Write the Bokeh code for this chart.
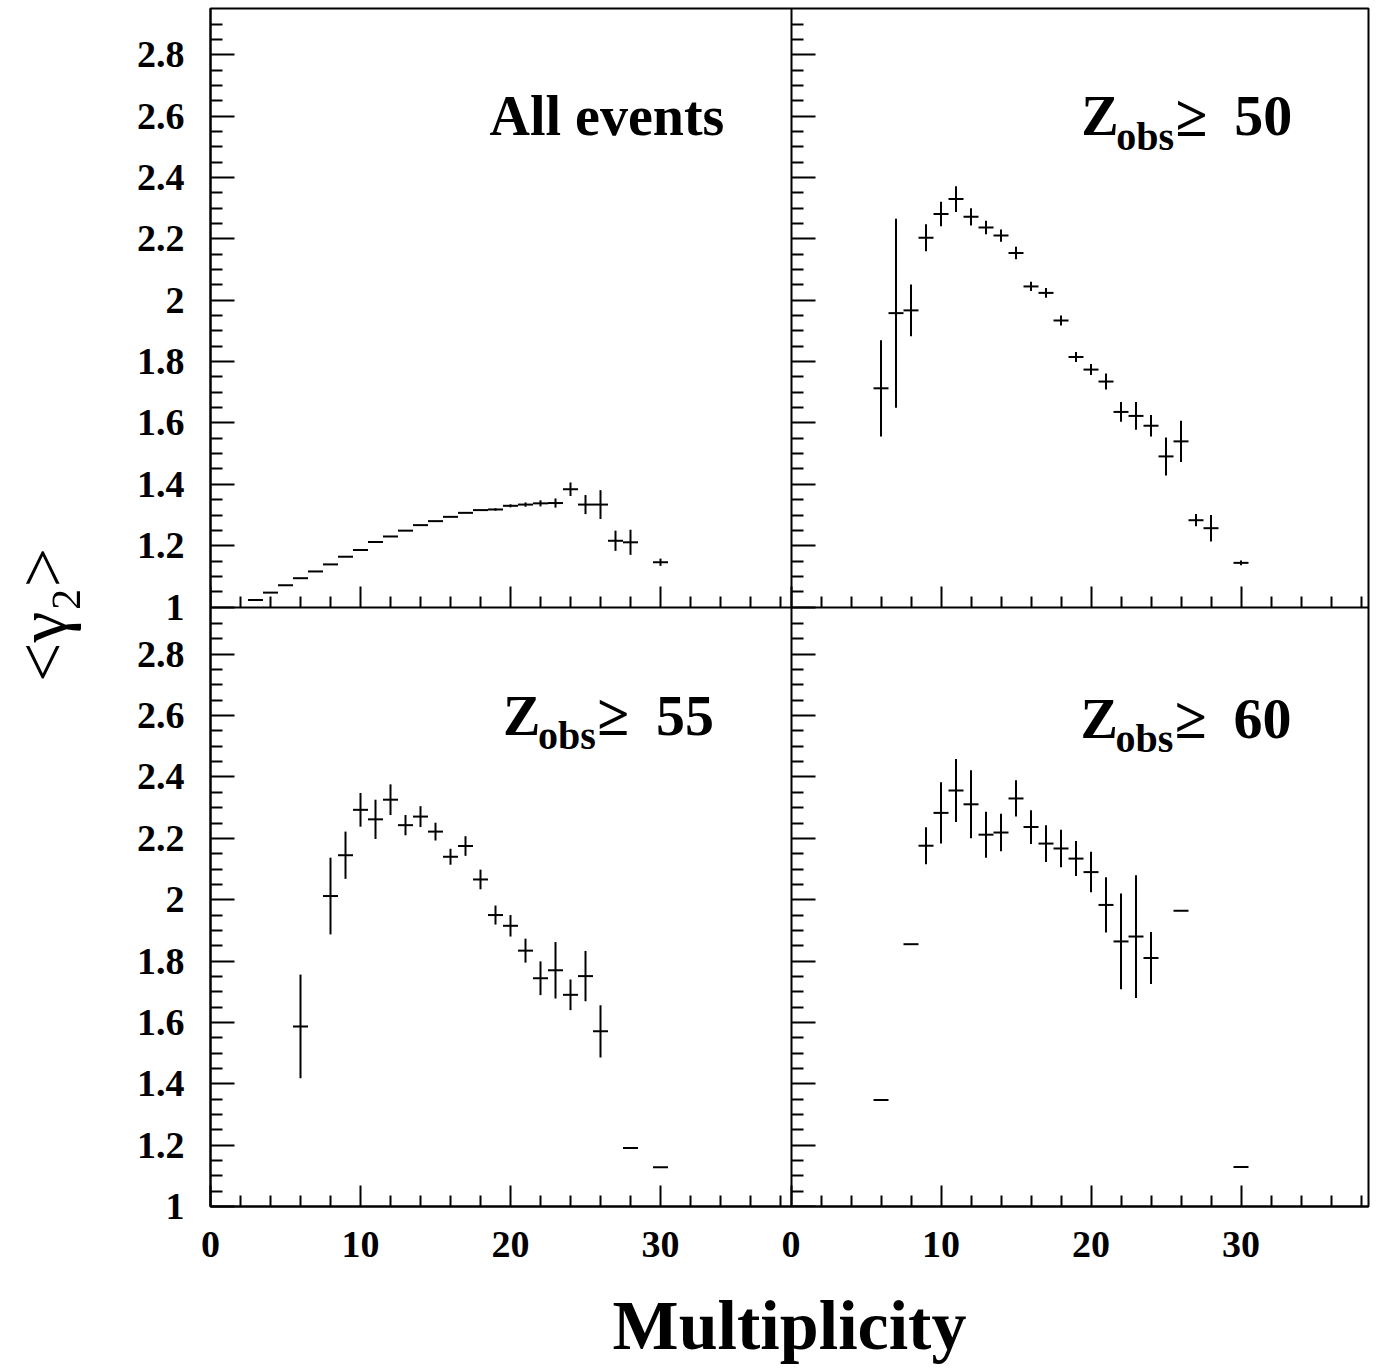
import numpy as np
from math import pi
from bokeh.plotting import figure
from bokeh.layouts import row
from bokeh.models import Range1d, LinearAxis, FixedTicker, Label
from bokeh.core.properties import value
from bokeh.embed import file_html
from bokeh.resources import INLINE

# ---------------- data ----------------
all_x = [3, 4, 5, 6, 7, 8, 9, 10, 11, 12, 13, 14, 15, 16, 17, 18, 19, 20, 21, 22, 23, 24, 25, 26, 27, 28, 30]
all_y = [1.023, 1.047, 1.071, 1.094, 1.116, 1.139, 1.164, 1.186, 1.212, 1.230, 1.249, 1.267, 1.280, 1.294,
         1.307, 1.316, 1.318, 1.330, 1.334, 1.338, 1.339, 1.384, 1.334, 1.334, 1.216, 1.211, 1.146]
all_e = [0, 0, 0, 0, 0, 0, 0, 0, 0, 0, 0, 0, 0, 0, 0, 0, 0.004, 0.005, 0.007, 0.010, 0.015, 0.022, 0.031,
         0.047, 0.033, 0.041, 0.012]

z50_x = [6, 7, 8, 9, 10, 11, 12, 13, 14, 15, 16, 17, 18, 19, 20, 21, 22, 23, 24, 25, 26, 27, 28, 30]
z50_y = [1.713, 1.958, 1.967, 2.204, 2.281, 2.330, 2.272, 2.237, 2.211, 2.154, 2.045, 2.024, 1.934, 1.815,
         1.774, 1.735, 1.636, 1.623, 1.591, 1.491, 1.540, 1.283, 1.257, 1.144]
z50_e = [0.157, 0.308, 0.084, 0.044, 0.040, 0.042, 0.028, 0.022, 0.020, 0.020, 0.015, 0.016, 0.016, 0.016,
         0.018, 0.026, 0.032, 0.045, 0.035, 0.062, 0.067, 0.020, 0.043, 0.008]

z55_x = [6, 8, 9, 10, 11, 12, 13, 14, 15, 16, 17, 18, 19, 20, 21, 22, 23, 24, 25, 26, 28, 30]
z55_y = [1.587, 2.012, 2.145, 2.293, 2.262, 2.326, 2.243, 2.271, 2.222, 2.140, 2.175, 2.066, 1.950, 1.915,
         1.834, 1.744, 1.770, 1.690, 1.751, 1.571, 1.191, 1.128]
z55_e = [0.169, 0.125, 0.077, 0.055, 0.064, 0.050, 0.033, 0.034, 0.029, 0.026, 0.032, 0.032, 0.031, 0.035,
         0.039, 0.055, 0.092, 0.050, 0.082, 0.085, 0, 0]

z60_x = [6, 8, 9, 10, 11, 12, 13, 14, 15, 16, 17, 18, 19, 20, 21, 22, 23, 24, 26, 30]
z60_y = [1.347, 1.855, 2.176, 2.283, 2.356, 2.311, 2.212, 2.219, 2.330, 2.237, 2.183, 2.167, 2.134, 2.090,
         1.983, 1.864, 1.880, 1.810, 1.964, 1.129]
z60_e = [0, 0, 0.060, 0.100, 0.103, 0.111, 0.075, 0.061, 0.059, 0.055, 0.060, 0.061, 0.057, 0.066,
         0.090, 0.156, 0.200, 0.085, 0, 0]

y_ticks = [1.0, 1.2, 1.4, 1.6, 1.8, 2.0, 2.2, 2.4, 2.6, 2.8]
y_tick_labels = ["1", "1.2", "1.4", "1.6", "1.8", "2", "2.2", "2.4", "2.6", "2.8"]
y_minor = [1.05, 1.1, 1.15, 1.25, 1.3, 1.35, 1.45, 1.5, 1.55, 1.65, 1.7, 1.75, 1.85, 1.9, 1.95,
           2.05, 2.1, 2.15, 2.25, 2.3, 2.35, 2.45, 2.5, 2.55, 2.65, 2.7, 2.75, 2.85, 2.9]
x_ticks = [0, 10, 20, 30]
x_tick_labels = ["0", "10", "20", "30"]
x_minor = [2, 4, 6, 8, 12, 14, 16, 18, 22, 24, 26, 28, 32, 34, 36, 38]

panel_titles = ["All events", "50", "55", "60"]
x_title = "Multiplicity"
y_title = "<\u03b3\u2082>"

# ---------------- layout constants ----------------
XL = 38.7      # x extent of left panels
XR = 38.5      # x extent of right panels
YB = 1.954     # y extent (above 1) of bottom panels
YT = 1.951     # y extent (above 1) of top panels
FONT = "Liberation Serif"
H = 1366
STRIP = 90     # width of the strip holding the y title

# combined tick positions: left/bottom panel on the main scale, right/top panel shifted
xt_all = [float(t) for t in x_ticks] + [t + XL for t in x_ticks]
xt_lab = x_tick_labels + x_tick_labels
xm_all = [float(t) for t in x_minor] + [t + XL for t in x_minor]
yt_all = list(y_ticks) + [t + YB for t in y_ticks]
yt_lab = y_tick_labels + y_tick_labels
ym_all = list(y_minor) + [t + YB for t in y_minor]

p = figure(width=(210 - STRIP) + 1158 + 8, height=H,
           x_range=Range1d(0, XL + XR), y_range=Range1d(1, 1 + YB + YT),
           x_axis_type=None, y_axis_type=None,
           output_backend="svg", toolbar_location=None,
           min_border_left=210 - STRIP, min_border_right=8, min_border_top=8,
           min_border_bottom=H - 8 - 1199)
p.extra_x_ranges = {"right": Range1d(-XL, XR)}
p.extra_y_ranges = {"top": Range1d(1 - YB, 1 + YT)}
p.outline_line_color = "black"
p.outline_line_width = 2
p.background_fill_color = "white"
p.border_fill_color = "white"


def make_axis(kind, show_labels, **kw):
    if kind == "y":
        ticker = FixedTicker(ticks=yt_all, minor_ticks=ym_all)
        overrides = {t: l for t, l in zip(yt_all, yt_lab)}
        tin, min_in, standoff = 24, 12, 26
    else:
        ticker = FixedTicker(ticks=xt_all, minor_ticks=xm_all)
        overrides = {t: l for t, l in zip(xt_all, xt_lab)}
        tin, min_in, standoff = 21, 11, 25
    ax = LinearAxis(ticker=ticker, major_label_overrides=overrides,
                    major_tick_in=tin, major_tick_out=0,
                    minor_tick_in=min_in, minor_tick_out=0,
                    major_tick_line_width=2, minor_tick_line_width=2,
                    axis_line_width=2, axis_line_color="black",
                    major_tick_line_color="black", minor_tick_line_color="black",
                    major_label_text_font=FONT, major_label_text_font_style="bold",
                    major_label_text_font_size="38px", major_label_text_color="black",
                    major_label_standoff=standoff, **kw)
    if not show_labels:
        ax.major_label_text_color = None
    return ax


p.add_layout(make_axis("y", True), "left")
xax = make_axis("x", True)
xax.axis_label = x_title
xax.axis_label_text_font = FONT
xax.axis_label_text_font_style = "bold"
xax.axis_label_text_font_size = "70px"
xax.axis_label_text_color = "black"
xax.axis_label_standoff = 27
p.add_layout(xax, "below")
# dividing lines between the panels carry the inner ticks
p.add_layout(make_axis("y", False, fixed_location=XL), "left")
p.add_layout(make_axis("x", False, fixed_location=1 + YB), "below")


def draw(xs, ys, es, xr, yr):
    xs = np.asarray(xs, float)
    ys = np.asarray(ys, float)
    es = np.asarray(es, float)
    p.segment(x0=xs - 0.5, y0=ys, x1=xs + 0.5, y1=ys, line_color="black", line_width=2,
              x_range_name=xr, y_range_name=yr)
    m = es > 0
    p.segment(x0=xs[m], y0=ys[m] - es[m], x1=xs[m], y1=ys[m] + es[m], line_color="black",
              line_width=2, x_range_name=xr, y_range_name=yr)


draw(all_x, all_y, all_e, "default", "top")
draw(z50_x, z50_y, z50_e, "right", "top")
draw(z55_x, z55_y, z55_e, "default", "default")
draw(z60_x, z60_y, z60_e, "right", "default")


def txt(text, x, y, size, xr, yr):
    p.add_layout(Label(x=x, y=y, text=text, x_range_name=xr, y_range_name=yr,
                       text_font=FONT, text_font_style="bold",
                       text_font_size=size, text_color="black",
                       text_align="left", text_baseline="alphabetic"))


def z_title(num, x, y, xr, yr):
    txt("Z", x, y, "56px", xr, yr)
    txt("obs", x + 2.33, y - 0.066, "40px", xr, yr)
    txt("\u2265", x + 6.3, y, "58px", xr, yr)
    txt(num, x + 10.2, y, "58px", xr, yr)


txt(panel_titles[0], 18.6, 2.60, "56px", "default", "top")
z_title(panel_titles[1], 19.35, 2.60, "right", "top")
z_title(panel_titles[2], 19.5, 2.60, "default", "default")
z_title(panel_titles[3], 19.3, 2.59, "right", "default")

# y-axis title in a narrow strip to the left
q = figure(width=STRIP, height=H, x_range=Range1d(0, STRIP), y_range=Range1d(0, H),
           x_axis_type=None, y_axis_type=None, output_backend="svg", toolbar_location=None,
           min_border=0, min_border_left=0, min_border_right=0, min_border_top=0, min_border_bottom=0)
q.outline_line_color = None
q.background_fill_color = "white"
q.border_fill_color = "white"
q.text(x=[42], y=[H - 768], text=[y_title], angle=pi / 2, text_font=value(FONT),
       text_font_size="70px", text_color="black", text_align="left", text_baseline="alphabetic")

layout = row(q, p, spacing=0)
open("out.html", "w").write(file_html(layout, INLINE))
